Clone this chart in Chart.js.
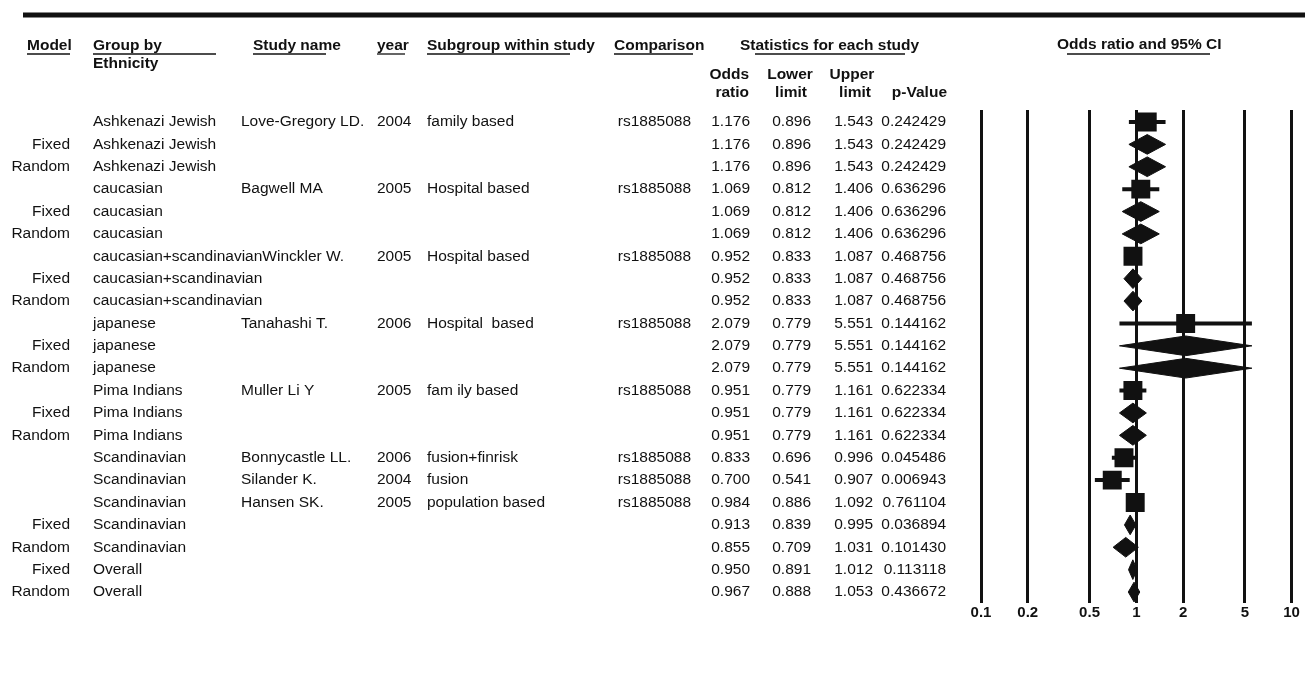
<!DOCTYPE html>
<html>
<head>
<meta charset="utf-8">
<script src="https://cdn.jsdelivr.net/npm/chart.js@4.4.1/dist/chart.umd.min.js"></script>
<style>
  html, body { margin: 0; padding: 0; background: #ffffff; }
  #wrap { width: 1305px; height: 675px; position: relative; }
</style>
</head>
<body>
<div id="wrap"><canvas id="forest"></canvas></div>
<script>
// ---- table / forest data ----
const models = ['', 'Fixed', 'Random', '', 'Fixed', 'Random', '', 'Fixed', 'Random', '', 'Fixed', 'Random',
  '', 'Fixed', 'Random', '', '', '', 'Fixed', 'Random', 'Fixed', 'Random'];
const groups = ['Ashkenazi Jewish', 'Ashkenazi Jewish', 'Ashkenazi Jewish', 'caucasian', 'caucasian', 'caucasian',
  'caucasian+scandinavian', 'caucasian+scandinavian', 'caucasian+scandinavian', 'japanese', 'japanese', 'japanese',
  'Pima Indians', 'Pima Indians', 'Pima Indians', 'Scandinavian', 'Scandinavian', 'Scandinavian', 'Scandinavian',
  'Scandinavian', 'Overall', 'Overall'];
const studies = ['Love-Gregory LD.', '', '', 'Bagwell MA', '', '', 'Winckler W.', '', '', 'Tanahashi T.', '', '',
  'Muller Li Y', '', '', 'Bonnycastle LL.', 'Silander K.', 'Hansen SK.', '', '', '', ''];
const years = ['2004', '', '', '2005', '', '', '2005', '', '', '2006', '', '', '2005', '', '', '2006', '2004', '2005',
  '', '', '', ''];
const subgroups = ['family based', '', '', 'Hospital based', '', '', 'Hospital based', '', '', 'Hospital  based', '', '',
  'fam ily based', '', '', 'fusion+finrisk', 'fusion', 'population based', '', '', '', ''];
const comparisons = ['rs1885088', '', '', 'rs1885088', '', '', 'rs1885088', '', '', 'rs1885088', '', '',
  'rs1885088', '', '', 'rs1885088', 'rs1885088', 'rs1885088', '', '', '', ''];
const oddsRatios = [1.176, 1.176, 1.176, 1.069, 1.069, 1.069, 0.952, 0.952, 0.952, 2.079, 2.079, 2.079,
  0.951, 0.951, 0.951, 0.833, 0.700, 0.984, 0.913, 0.855, 0.950, 0.967];
const lowerLimits = [0.896, 0.896, 0.896, 0.812, 0.812, 0.812, 0.833, 0.833, 0.833, 0.779, 0.779, 0.779,
  0.779, 0.779, 0.779, 0.696, 0.541, 0.886, 0.839, 0.709, 0.891, 0.888];
const upperLimits = [1.543, 1.543, 1.543, 1.406, 1.406, 1.406, 1.087, 1.087, 1.087, 5.551, 5.551, 5.551,
  1.161, 1.161, 1.161, 0.996, 0.907, 1.092, 0.995, 1.031, 1.012, 1.053];
const pValues = [0.242429, 0.242429, 0.242429, 0.636296, 0.636296, 0.636296, 0.468756, 0.468756, 0.468756,
  0.144162, 0.144162, 0.144162, 0.622334, 0.622334, 0.622334, 0.045486, 0.006943, 0.761104, 0.036894,
  0.101430, 0.113118, 0.436672];
const tickValues = [0.1, 0.2, 0.5, 1, 2, 5, 10];
const tickLabels = ['0.1', '0.2', '0.5', '1', '2', '5', '10'];

// ---- styling ----
const INK = '#111111';
const FONT_FAMILY = '"Liberation Sans", Arial, Helvetica, sans-serif';
const BODY_FONT = '15.5px ' + FONT_FAMILY;
const HEAD_FONT = 'bold 15.5px ' + FONT_FAMILY;
const DIAMOND_HALF = 0.44;   // half height of a summary diamond, in row units

// ---- datasets: whiskers + squares for single studies, diamonds for pooled rows ----
const datasets = [];
const squarePoints = [];
oddsRatios.forEach((or, i) => {
  const lo = lowerLimits[i], hi = upperLimits[i];
  if (studies[i]) {
    squarePoints.push({ x: or, y: i });
    datasets.push({
      type: 'line',
      data: [{ x: lo, y: i }, { x: hi, y: i }],
      borderColor: INK, borderWidth: 4, borderCapStyle: 'butt',
      pointRadius: 0, fill: false, order: 2
    });
  } else {
    datasets.push({
      type: 'line',
      data: [
        { x: lo, y: i }, { x: or, y: i - DIAMOND_HALF },
        { x: hi, y: i }, { x: or, y: i + DIAMOND_HALF }, { x: lo, y: i }
      ],
      borderColor: INK, backgroundColor: INK, borderWidth: 1,
      pointRadius: 0, tension: 0, fill: 'shape', order: 1
    });
  }
});
datasets.push({
  type: 'scatter',
  data: squarePoints,
  pointStyle: 'rect', pointRadius: 13.4,
  backgroundColor: INK, borderWidth: 0, order: 0
});

// ---- table text, header and rule drawn around the plot ----
const tablePlugin = {
  id: 'forestTable',
  afterDraw(chart) {
    const ctx = chart.ctx;
    const yScale = chart.scales.y;
    ctx.save();
    ctx.fillStyle = INK;
    ctx.strokeStyle = INK;

    // heavy rule across the top
    ctx.lineWidth = 5;
    ctx.beginPath();
    ctx.moveTo(23, 15);
    ctx.lineTo(1305, 15);
    ctx.stroke();

    // column headers
    ctx.font = HEAD_FONT;
    ctx.textBaseline = 'middle';
    const head = (txt, x, y, align) => {
      ctx.textAlign = align || 'left';
      ctx.fillText(txt, x, y);
    };
    const underline = (x1, x2, y) => {
      ctx.lineWidth = 1.3;
      ctx.beginPath();
      ctx.moveTo(x1, y);
      ctx.lineTo(x2, y);
      ctx.stroke();
    };
    head('Model', 27, 46);
    underline(27, 70, 54);
    head('Group by', 93, 46);
    head('Ethnicity', 93, 64);
    underline(93, 216, 54);
    head('Study name', 253, 46);
    underline(253, 326, 54);
    head('year', 377, 46);
    underline(377, 405, 54);
    head('Subgroup within study', 427, 46);
    underline(427, 570, 54);
    head('Comparison', 614, 46);
    underline(614, 693, 54);
    head('Statistics for each study', 740, 46);
    underline(755, 905, 54);
    head('Odds ratio and 95% CI', 1057, 45);
    underline(1067, 1210, 54);

    head('Odds', 749, 75, 'right');
    head('ratio', 749, 93, 'right');
    head('Lower', 790, 75, 'center');
    head('limit', 791, 93, 'center');
    head('Upper', 852, 75, 'center');
    head('limit', 855, 93, 'center');
    head('p-Value', 947, 93, 'right');

    // table body, one line per row
    ctx.font = BODY_FONT;
    for (let i = 0; i < groups.length; i++) {
      const y = yScale.getPixelForValue(i);
      ctx.textAlign = 'right';
      if (models[i]) ctx.fillText(models[i], 70, y);
      ctx.textAlign = 'left';
      ctx.fillText(groups[i], 93, y);
      const groupEnd = 93 + ctx.measureText(groups[i]).width;
      if (studies[i]) ctx.fillText(studies[i], Math.max(241, groupEnd), y);
      if (years[i]) ctx.fillText(years[i], 377, y);
      if (subgroups[i]) ctx.fillText(subgroups[i], 427, y);
      ctx.textAlign = 'right';
      if (comparisons[i]) ctx.fillText(comparisons[i], 691, y);
      ctx.fillText(oddsRatios[i].toFixed(3), 750, y);
      ctx.fillText(lowerLimits[i].toFixed(3), 811, y);
      ctx.fillText(upperLimits[i].toFixed(3), 873, y);
      ctx.fillText(pValues[i].toFixed(6), 946, y);
    }
    ctx.restore();
  }
};

new Chart(document.getElementById('forest'), {
  type: 'scatter',
  data: { datasets },
  options: {
    responsive: true,
    maintainAspectRatio: false,
    animation: false,
    layout: { padding: { left: 981, right: 10, top: 110, bottom: 0 } },
    plugins: { legend: { display: false }, tooltip: { enabled: false } },
    scales: {
      x: {
        type: 'logarithmic',
        position: 'bottom',
        min: 0.1,
        max: 10,
        afterBuildTicks: (scale) => { scale.ticks = tickValues.map(v => ({ value: v })); },
        afterFit: (scale) => { scale.height = 72; },
        grid: { color: INK, lineWidth: 3, drawTicks: false },
        border: { display: false },
        ticks: {
          autoSkip: false,
          maxRotation: 0,
          padding: 1,
          color: INK,
          font: { family: FONT_FAMILY, size: 15, weight: 'bold' },
          callback: (value, index) => tickLabels[index]
        }
      },
      y: {
        type: 'linear',
        display: false,
        reverse: true,
        min: -0.536,
        max: 21.49
      }
    }
  },
  plugins: [tablePlugin]
});
</script>
</body>
</html>
